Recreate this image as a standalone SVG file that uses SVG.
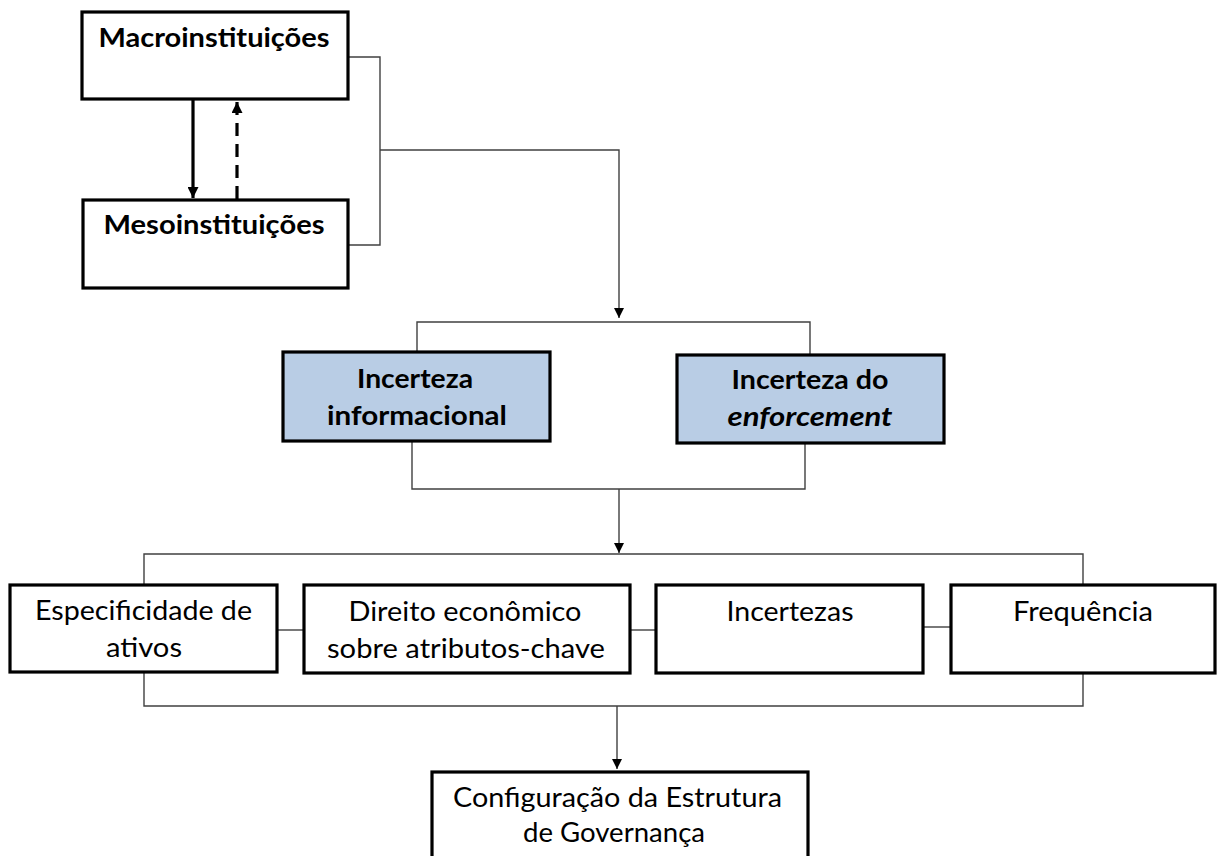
<svg xmlns="http://www.w3.org/2000/svg" width="1217" height="856" viewBox="0 0 1217 856">
<style>
.box{fill:#ffffff;stroke:#000;stroke-width:3.2}
.blue{fill:#B9CDE5;stroke:#000;stroke-width:3.2}
.t{font-family:Lato,"Liberation Sans",sans-serif;font-size:27px;fill:#000;text-anchor:middle}
.b{font-weight:bold}
.i{font-style:italic}
.c{fill:none;stroke:#404040;stroke-width:1.4}
.thick{fill:none;stroke:#000;stroke-width:3.2}
</style>
<defs>
<marker id="ah" viewBox="0 0 10 10" refX="10" refY="5" markerWidth="10" markerHeight="10" markerUnits="userSpaceOnUse" orient="auto">
<path d="M0,0 L10,5 L0,10 Z" fill="#000"/>
</marker>
<marker id="ahb" viewBox="0 0 10 10" refX="10" refY="5" markerWidth="12" markerHeight="11" markerUnits="userSpaceOnUse" orient="auto">
<path d="M0,0 L10,5 L0,10 Z" fill="#000"/>
</marker>
</defs>
<g id="connectors">
<path class="thick" d="M193,100 V198" marker-end="url(#ahb)"/>
<path class="thick" d="M237,199 V102" stroke-dasharray="13 8" marker-end="url(#ahb)"/>
<path class="c" d="M348,57 H380 V245 H348"/>
<path class="c" d="M380,150 H619 V318" marker-end="url(#ah)"/>
<path class="c" d="M417,352 V322 H810 V355"/>
<path class="c" d="M412,441 V489 H805 V443"/>
<path class="c" d="M619,489 V553" marker-end="url(#ah)"/>
<path class="c" d="M144,585 V554 H1083 V585"/>
<path class="c" d="M277,630 H304"/>
<path class="c" d="M630,630 H656"/>
<path class="c" d="M923,627 H951"/>
<path class="c" d="M144,672 V706 H1083 V673"/>
<path class="c" d="M617,706 V769" marker-end="url(#ah)"/>
</g>
<g id="macro">
<rect class="box" x="82" y="12" width="266" height="87"/>
<text class="t b" x="214" y="47" textLength="231" lengthAdjust="spacingAndGlyphs">Macroinstituições</text>
</g>
<g id="meso">
<rect class="box" x="83" y="200" width="265" height="88"/>
<text class="t b" x="214" y="234" textLength="221" lengthAdjust="spacingAndGlyphs">Mesoinstituições</text>
</g>
<g id="incerteza-informacional">
<rect class="blue" x="283" y="352" width="267" height="89"/>
<text class="t b" x="415" y="388" textLength="116" lengthAdjust="spacingAndGlyphs">Incerteza</text>
<text class="t b" x="417" y="425" textLength="180" lengthAdjust="spacingAndGlyphs">informacional</text>
</g>
<g id="incerteza-enforcement">
<rect class="blue" x="677" y="355" width="267" height="88"/>
<text class="t b" x="810" y="389" textLength="157" lengthAdjust="spacingAndGlyphs">Incerteza do</text>
<text class="t b i" x="810" y="426" textLength="165" lengthAdjust="spacingAndGlyphs">enforcement</text>
</g>
<g id="especificidade">
<rect class="box" x="10" y="585" width="267" height="87"/>
<text class="t" x="143.5" y="620" textLength="217" lengthAdjust="spacingAndGlyphs">Especificidade de</text>
<text class="t" x="144" y="657" textLength="76" lengthAdjust="spacingAndGlyphs">ativos</text>
</g>
<g id="direito">
<rect class="box" x="304" y="585" width="326" height="88"/>
<text class="t" x="465" y="621" textLength="233" lengthAdjust="spacingAndGlyphs">Direito econômico</text>
<text class="t" x="466" y="658" textLength="278" lengthAdjust="spacingAndGlyphs">sobre atributos-chave</text>
</g>
<g id="incertezas">
<rect class="box" x="656" y="585" width="267" height="88"/>
<text class="t" x="790" y="621" textLength="127" lengthAdjust="spacingAndGlyphs">Incertezas</text>
</g>
<g id="frequencia">
<rect class="box" x="951" y="585" width="264" height="88"/>
<text class="t" x="1083" y="621" textLength="140" lengthAdjust="spacingAndGlyphs">Frequência</text>
</g>
<g id="configuracao">
<rect class="box" x="432" y="772" width="376" height="100"/>
<text class="t" x="617.5" y="807" textLength="329" lengthAdjust="spacingAndGlyphs">Configuração da Estrutura</text>
<text class="t" x="614" y="842" textLength="182" lengthAdjust="spacingAndGlyphs">de Governança</text>
</g>
</svg>
